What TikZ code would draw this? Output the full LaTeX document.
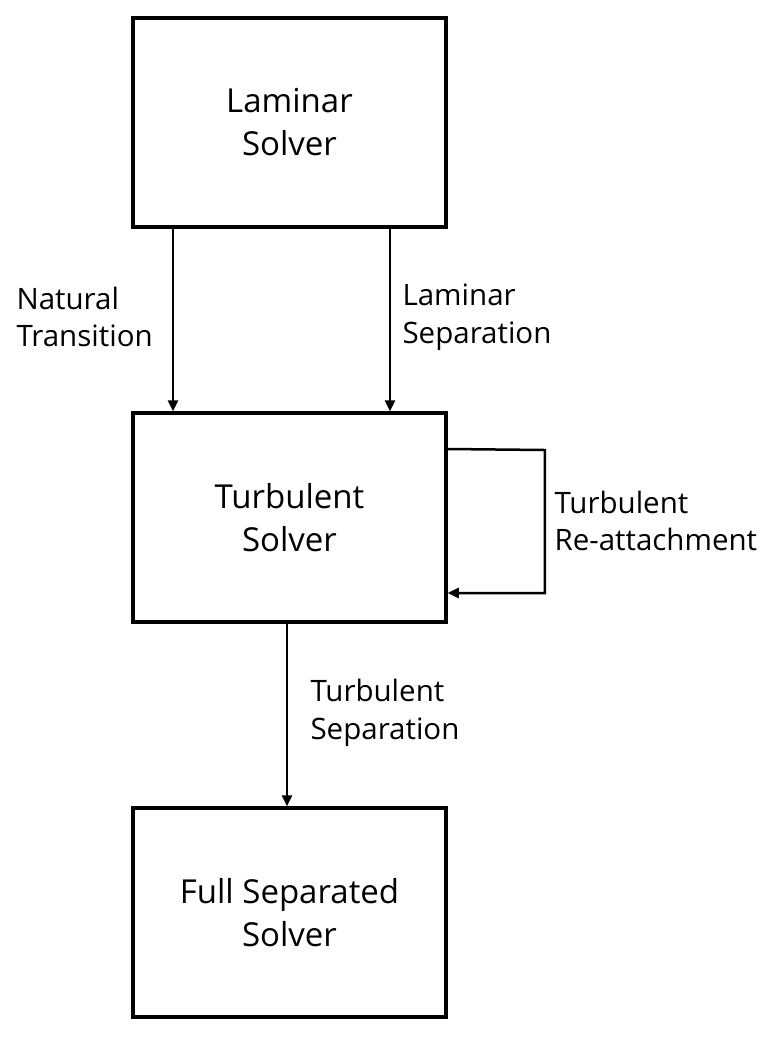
\documentclass[tikz,border=0pt]{standalone}
\usepackage{fontspec}
\setmainfont{Open Sans}
\usetikzlibrary{arrows.meta, positioning, calc}
\definecolor{Ink}{HTML}{000000}

\begin{document}
\begin{tikzpicture}[
            x=1pt, y=-1pt,
            solver/.style={
                rectangle,
                draw=Ink,
                fill=white,
                line width=3.5pt,
                minimum height=209pt,
                minimum width=313pt,
                align=center,
                font=\fontsize{33}{43}\selectfont,
                text=Ink
            },
            arrow/.style={-{Triangle[length=11pt,width=10pt]}, line width=2.5pt, color=Ink},
            note/.style={anchor=west, align=left, font=\fontsize{29.5}{37.5}\selectfont, text=Ink}
        ]
            \useasboundingbox (0,0) rectangle (774,1037);

            \node[solver] (lam) at (289.5,122.5) {Laminar\\Solver};
            \node[solver] (turb) at (289.5,517.5) {Turbulent\\Solver};
            \node[solver] (full) at (289.5,912.5) {Full Separated\\Solver};

            % Transitions out of the laminar solver
            \draw[arrow] ([xshift=-116.5pt]lam.south) -- ([xshift=-116.5pt]turb.north);
            \draw[arrow] ([xshift=100.5pt]lam.south) -- ([xshift=100.5pt]turb.north);
            \node[note] (nat) at (13,317) {Natural\\Transition};
            \node[note] (lsep) at (399,317) {Laminar\\Separation};

            % Re-attachment loop
            \draw[arrow] ([yshift=68.5pt]turb.east) -- ++(97,1) |- ([yshift=-75.5pt]turb.east);
            \node[note] (reatt) at (551,521) {Turbulent\\Re-attachment};

            % Down to full separation
            \draw[arrow] ([xshift=-2.5pt]turb.south) -- ([xshift=-2.5pt]full.north);
            \node[note] (tsep) at (307,713) {Turbulent\\Separation};
        \end{tikzpicture}
\end{document}
